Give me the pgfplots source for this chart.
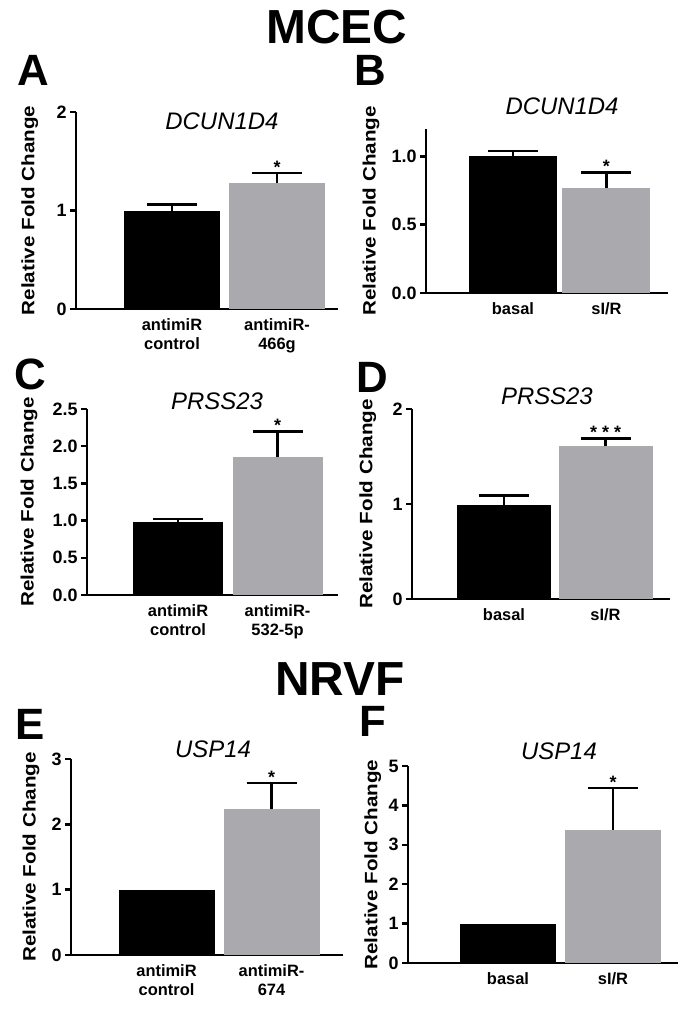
\documentclass[border=0pt]{standalone}
\usepackage{fontspec}
\setmainfont{Liberation Sans}
\usepackage{pgfplots}
\pgfplotsset{compat=1.18}
\definecolor{bargray}{RGB}{170,170,174}
\tikzset{starlbl/.style={font=\bfseries\fontsize{18}{18}\selectfont, anchor=base},
  bigl/.style={font=\bfseries\fontsize{44}{44}\selectfont, inner sep=0pt},
  head/.style={font=\bfseries\fontsize{48}{48}\selectfont, inner sep=0pt}}
\pgfplotsset{
  panel/.style={
    scale only axis,
    anchor=south west,
    axis x line=bottom, axis y line=left,
    axis line style={line width=2.5bp,-},
    tick align=outside,
    major tick length=6bp,
    ytick style={line width=2.5bp, black},
    xtick style={draw=none},
    ymin=0, clip=false,
    xtick={1,2},
    /pgf/number format/assume math mode=true,
    yticklabel style={font=\bfseries\fontsize{18}{18}\selectfont},
    xticklabel style={font=\bfseries\fontsize{16.5}{19}\selectfont, align=center},
    ylabel={\scalebox{1.15}[1]{Relative Fold Change}},
    ylabel style={font=\bfseries\fontsize{18}{18}\selectfont, anchor=center},
    title style={font=\itshape\fontsize{24}{24}\selectfont, anchor=center},
  },
  blackbar/.style={ybar, bar shift=0pt, fill=black, draw=none,
    error bars/.cd, y dir=plus, y explicit,
    error bar style={line width=2.5bp, black},
    error mark options={rotate=90, line width=2.5bp, mark size=25bp, black}},
  plainbar/.style={ybar, bar shift=0pt, fill=black, draw=none},
  graybar/.style={ybar, bar shift=0pt, fill=bargray, draw=none,
    error bars/.cd, y dir=plus, y explicit,
    error bar style={line width=2.5bp, black},
    error mark options={rotate=90, line width=2.5bp, mark size=25bp, black}},
}
\begin{document}
\begin{tikzpicture}
\path[use as bounding box] (0,0) rectangle (691bp,-1010bp);
% headers
\node[head] at (337bp,-27bp) {MCEC};
\node[head] at (340bp,-679bp) {NRVF};
\node[bigl] at (33bp,-70bp) {A};
\node[bigl] at (370bp,-70bp) {B};
\node[bigl] at (30bp,-374bp) {C};
\node[bigl] at (372bp,-377bp) {D};
\node[bigl] at (30bp,-724bp) {E};
\node[bigl] at (373bp,-721bp) {F};

% A
\begin{axis}[panel, at={(76bp,-309bp)}, width=262bp, height=197bp,
  ymax=2, ytick={0,1,2}, xmin=0.086, xmax=2.581, bar width=96bp,
  xticklabels={{antimiR\\control},{antimiR-\\466g}},
  ylabel style={at={(axis description cs:-0.176,0.5)}},
  title={DCUN1D4}, title style={at={(axis description cs:0.557,0.924)}}]
\addplot[blackbar] coordinates {(1,0.99) +- (0,0.07)};
\addplot[graybar] coordinates {(2,1.28) +- (0,0.10)};
\node[starlbl] at (axis cs:2,1.38) {*};
\end{axis}

% B
\begin{axis}[panel, at={(426bp,-293bp)}, width=242bp, height=164bp,
  ymax=1.2, ytick={0,0.5,1}, xmin=0.070, xmax=2.658, bar width=88bp,
  yticklabel style={/pgf/number format/.cd, fixed, fixed zerofill, precision=1},
  xticklabels={basal,sI/R},
  ylabel style={at={(axis description cs:-0.227,0.5)}},
  title={DCUN1D4}, title style={at={(axis description cs:0.562,1.104)}}]
\addplot[blackbar] coordinates {(1,1.00) +- (0,0.04)};
\addplot[graybar] coordinates {(2,0.77) +- (0,0.11)};
\node[starlbl] at (axis cs:2,0.88) {*};
\end{axis}

% C
\begin{axis}[panel, at={(87bp,-595bp)}, width=251bp, height=186bp,
  ymax=2.5, ytick={0,0.5,1,1.5,2,2.5}, xmin=0.085, xmax=2.608, bar width=90bp,
  yticklabel style={/pgf/number format/.cd, fixed, fixed zerofill, precision=1},
  xticklabels={{antimiR\\control},{antimiR-\\532-5p}},
  ylabel style={at={(axis description cs:-0.231,0.5)}},
  title={PRSS23}, title style={at={(axis description cs:0.518,1.011)}}]
\addplot[blackbar] coordinates {(1,0.98) +- (0,0.04)};
\addplot[graybar] coordinates {(2,1.85) +- (0,0.35)};
\node[starlbl] at (axis cs:2,2.20) {*};
\end{axis}

% D
\begin{axis}[panel, at={(412bp,-599bp)}, width=258bp, height=190bp,
  ymax=2, ytick={0,1,2}, xmin=0.094, xmax=2.635, bar width=94bp,
  xticklabels={basal,sI/R},
  ylabel style={at={(axis description cs:-0.171,0.5)}},
  title={PRSS23}, title style={at={(axis description cs:0.523,1.037)}}]
\addplot[blackbar] coordinates {(1,0.99) +- (0,0.10)};
\addplot[graybar] coordinates {(2,1.61) +- (0,0.08)};
\node[starlbl] at (axis cs:2,1.69) {*\kern5bp*\kern5bp*};
\end{axis}

% E
\begin{axis}[panel, at={(71bp,-955bp)}, width=272bp, height=196bp,
  ymax=3, ytick={0,1,2,3}, xmin=0.090, xmax=2.681, bar width=96bp,
  xticklabels={{antimiR\\control},{antimiR-\\674}},
  ylabel style={at={(axis description cs:-0.147,0.5)}},
  title={USP14}, title style={at={(axis description cs:0.522,1.020)}}]
\addplot[plainbar] coordinates {(1,1.00)};
\addplot[graybar] coordinates {(2,2.23) +- (0,0.40)};
\node[starlbl] at (axis cs:2,2.63) {*};
\end{axis}

% F
\begin{axis}[panel, at={(408bp,-963bp)}, width=270bp, height=197bp,
  ymax=5, ytick={0,1,2,3,4,5}, xmin=0.048, xmax=2.619, bar width=96bp,
  xticklabels={basal,sI/R},
  ylabel style={at={(axis description cs:-0.130,0.5)}},
  title={USP14}, title style={at={(axis description cs:0.559,1.046)}}]
\addplot[plainbar] coordinates {(1,1.00)};
\addplot[graybar] coordinates {(2,3.38) +- (0,1.06)};
\node[starlbl] at (axis cs:2,4.44) {*};
\end{axis}
\end{tikzpicture}
\end{document}
